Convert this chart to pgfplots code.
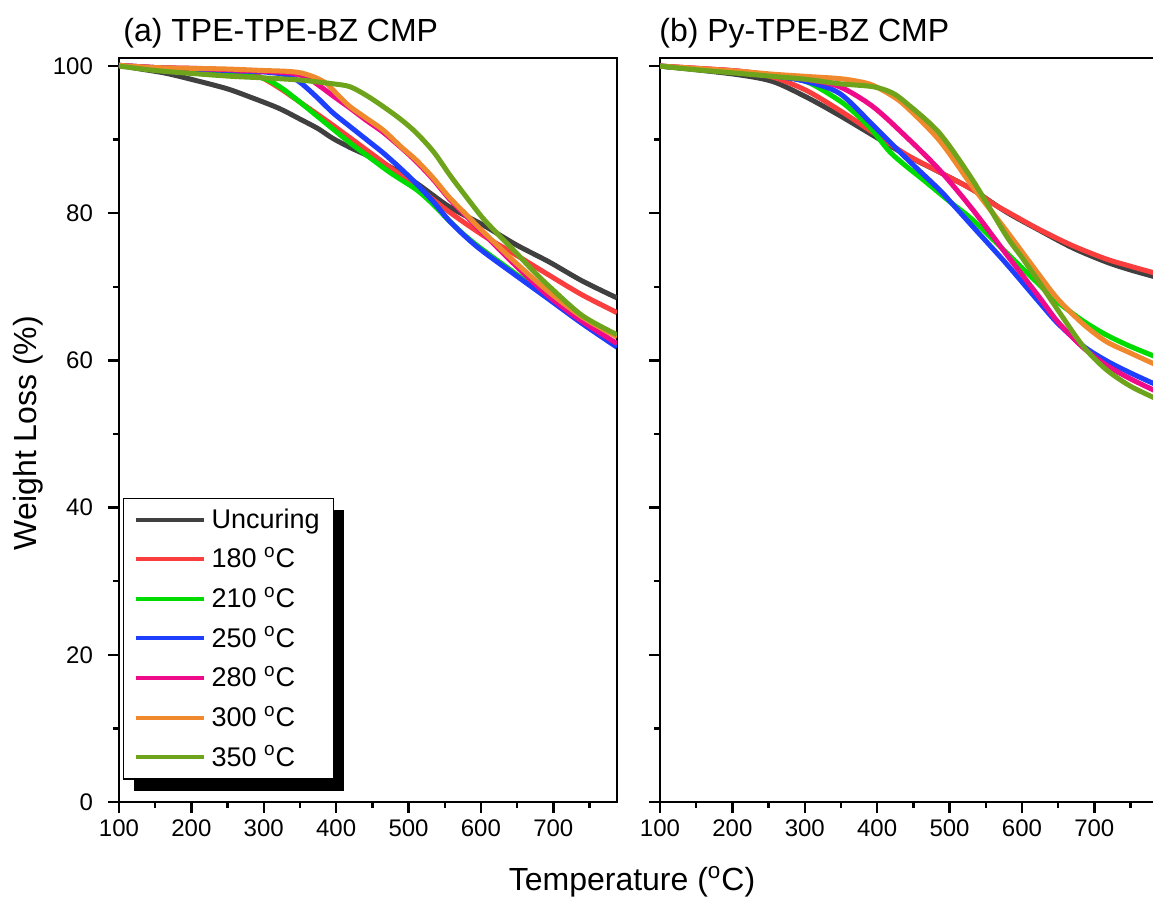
\documentclass[border=0pt]{standalone}
\usepackage{fontspec}
\setmainfont{Liberation Sans}
\usepackage{pgfplots}
\pgfplotsset{compat=1.18}
\usetikzlibrary{shadows}

\definecolor{cUn}{HTML}{404040}
\definecolor{cA}{HTML}{FA3E3E}
\definecolor{cB}{HTML}{00DC00}
\definecolor{cC}{HTML}{1F3FFF}
\definecolor{cD}{HTML}{EE0A88}
\definecolor{cE}{HTML}{F0892E}
\definecolor{cF}{HTML}{6EA41C}

\makeatletter
\tikzset{no preactions/.code={\let\tikz@preactions\pgfutil@empty}}
\makeatother

\newcommand\lstrut{\rule[-2pt]{0pt}{11.5pt}}

\pgfplotsset{
  tga/.style={
    scale only axis, width=249pt, height=372pt,
    xmin=100, xmax=788, ymin=0, ymax=101.1,
    xtick={100,200,...,700}, minor xtick={150,250,...,750},
    ytick={0,20,...,100}, minor ytick={10,30,...,90},
    tick align=outside, xtick pos=bottom, ytick pos=left,
    major tick length=5.5pt, minor tick length=3pt,
    axis line style={line width=1.2pt},
    every tick/.style={black, line width=1.2pt},
    tick label style={font=\fontsize{12}{14}\selectfont},
    yticklabel style={xshift=-4pt},
    /pgf/number format/assume math mode=true,
    /pgf/number format/1000 sep={},
    every axis plot/.append style={line width=2.5pt, smooth, tension=0.5},
  }
}

\begin{document}
\begin{tikzpicture}
% (a) TPE-TPE-BZ CMP
\begin{axis}[tga, at={(59.5pt,51.5pt)}, anchor=south west,
  legend cell align=left,
  legend image code/.code={\draw[no preactions, #1, line width=2pt] (0pt,0pt) -- (34pt,0pt);},
  legend style={at={(0.008,0.03)}, anchor=south west, draw=black, line width=0.6pt,
    fill=white, inner xsep=5pt, inner ysep=3pt,
    font=\fontsize{13.5}{16}\selectfont,
    row sep=4pt,
    /tikz/every odd column/.style={column sep=1pt},
    drop shadow={shadow xshift=5pt, shadow yshift=-5.75pt, fill=black, opacity=1}},
]
\addplot[cUn] coordinates {(100,100.1) (130,99.6) (166,99.0) (212,97.9) (250,96.9) (281,95.8) (320,94.3) (350,92.8) (375,91.5) (395,90.2) (420,88.9) (442,87.9) (480,86.0) (511,84.1) (556,80.9) (603,78.4) (649,75.7) (694,73.4) (740,70.8) (788,68.5)};
\addplot[cA] coordinates {(100,100.1) (150,99.8) (200,99.6) (250,99.3) (281,99.0) (300,98.3) (325,96.8) (350,95.1) (375,93.4) (395,92.0) (420,90.2) (442,88.6) (475,86.2) (511,83.6) (556,80.2) (603,77.0) (649,74.3) (694,71.6) (740,68.9) (788,66.5)};
\addplot[cB] coordinates {(100,100.1) (150,99.5) (200,99.1) (257,98.7) (290,98.5) (304,98.2) (325,97.0) (350,95.1) (375,93.1) (395,91.5) (420,89.5) (442,87.9) (475,85.5) (511,83.2) (534,81.2) (556,79.0) (580,76.8) (603,75.0) (649,71.7) (694,68.4) (740,65.1) (788,61.9)};
\addplot[cC] coordinates {(100,100.1) (150,99.8) (200,99.6) (250,99.4) (300,99.2) (331,98.8) (350,97.8) (373,95.8) (395,93.7) (419,91.8) (442,90.0) (465,88.2) (490,86.0) (511,84.0) (534,81.6) (556,79.0) (580,76.7) (603,74.8) (649,71.5) (694,68.3) (740,65.0) (788,61.8)};
\addplot[cD] coordinates {(100,100.1) (150,99.8) (200,99.7) (250,99.5) (300,99.3) (340,99.0) (360,98.4) (373,97.6) (395,96.0) (419,94.3) (442,92.6) (465,91.0) (490,88.9) (511,87.0) (534,84.6) (556,82.0) (580,79.6) (603,77.3) (649,72.8) (694,68.7) (740,65.3) (788,62.3)};
\addplot[cE] coordinates {(100,100.1) (150,99.8) (200,99.7) (250,99.6) (300,99.4) (330,99.3) (350,99.1) (370,98.5) (387,97.6) (403,96.0) (419,94.5) (442,92.9) (465,91.3) (490,89.0) (511,87.2) (534,84.8) (556,82.2) (580,79.8) (603,77.5) (649,73.2) (694,69.3) (740,65.9) (788,63.2)};
\addplot[cF] coordinates {(100,100.0) (150,99.4) (200,99.0) (257,98.6) (300,98.4) (350,98.1) (395,97.6) (419,97.2) (442,96.0) (465,94.5) (490,92.7) (511,90.9) (535,88.3) (557,85.2) (580,82.2) (603,79.3) (626,76.9) (649,74.6) (671,72.3) (694,70.1) (740,66.1) (788,63.5)};
\legend{\lstrut Uncuring, \lstrut 180 \textsuperscript{o}C, \lstrut 210 \textsuperscript{o}C, \lstrut 250 \textsuperscript{o}C, \lstrut 280 \textsuperscript{o}C, \lstrut 300 \textsuperscript{o}C, \lstrut 350 \textsuperscript{o}C}
\end{axis}

% (b) Py-TPE-BZ CMP
\begin{axis}[tga, at={(330pt,51.5pt)}, anchor=south west, yticklabels={}]
\addplot[cUn] coordinates {(100,100) (150,99.5) (210,98.8) (256,97.9) (302,95.8) (348,93.3) (394,90.6) (440,87.9) (486,85.6) (532,83.2) (578,80.2) (624,77.7) (670,75.3) (716,73.4) (750,72.3) (790,71.2)};
\addplot[cA] coordinates {(100,100) (150,99.7) (210,99.3) (256,98.5) (302,96.7) (348,94.0) (394,91.0) (440,88.0) (486,85.6) (532,83.2) (560,81.3) (578,80.3) (624,77.8) (670,75.6) (716,73.8) (750,72.8) (790,71.7)};
\addplot[cB] coordinates {(100,100) (150,99.6) (210,99.2) (256,98.7) (302,97.9) (348,95.3) (375,93.1) (394,91.2) (417,88.4) (440,86.4) (463,84.6) (500,81.6) (532,79.1) (578,74.7) (624,70.3) (650,67.9) (684,65.4) (716,63.5) (750,61.9) (790,60.3)};
\addplot[cC] coordinates {(100,100) (150,99.6) (210,99.2) (256,98.7) (302,97.9) (348,96.3) (394,92.0) (440,87.5) (486,83.2) (500,81.7) (532,78.2) (578,73.2) (624,67.9) (650,65.0) (684,62.0) (716,60.0) (750,58.3) (790,56.5)};
\addplot[cD] coordinates {(100,100) (150,99.7) (210,99.3) (256,98.7) (302,98.2) (348,97.2) (394,94.5) (440,90.4) (486,85.9) (532,80.5) (578,74.5) (624,68.6) (650,65.2) (684,61.8) (716,59.4) (750,57.5) (790,55.6)};
\addplot[cE] coordinates {(100,100) (150,99.7) (210,99.3) (256,98.9) (302,98.6) (348,98.3) (375,97.9) (394,97.4) (420,96.0) (440,94.5) (486,89.9) (532,83.6) (578,77.7) (624,71.6) (650,68.3) (684,65.0) (716,62.6) (750,61.0) (790,59.2)};
\addplot[cF] coordinates {(100,100) (150,99.5) (210,99.0) (256,98.6) (302,98.2) (348,97.6) (394,97.2) (420,96.4) (440,95.0) (486,90.9) (532,84.5) (578,77.0) (600,74.0) (624,70.6) (650,66.8) (684,62.0) (716,58.8) (750,56.5) (790,54.6)};
\end{axis}

\node[anchor=base west, inner sep=0pt, font=\fontsize{16}{19}\selectfont] at (61.5pt,431.5pt) {(a) TPE-TPE-BZ CMP};
\node[anchor=base west, inner sep=0pt, font=\fontsize{16}{19}\selectfont] at (329.5pt,431.5pt) {(b) Py-TPE-BZ CMP};
\node[rotate=90, font=\fontsize{16}{19}\selectfont] at (14pt,236pt) {Weight Loss (\%)};
\node[font=\fontsize{16}{19}\selectfont] at (316pt,11.5pt) {Temperature (\textsuperscript{o}C)};

\pgfresetboundingbox
\path[use as bounding box] (0pt,0pt) rectangle (576.5pt,452.5pt);
\end{tikzpicture}
\end{document}
